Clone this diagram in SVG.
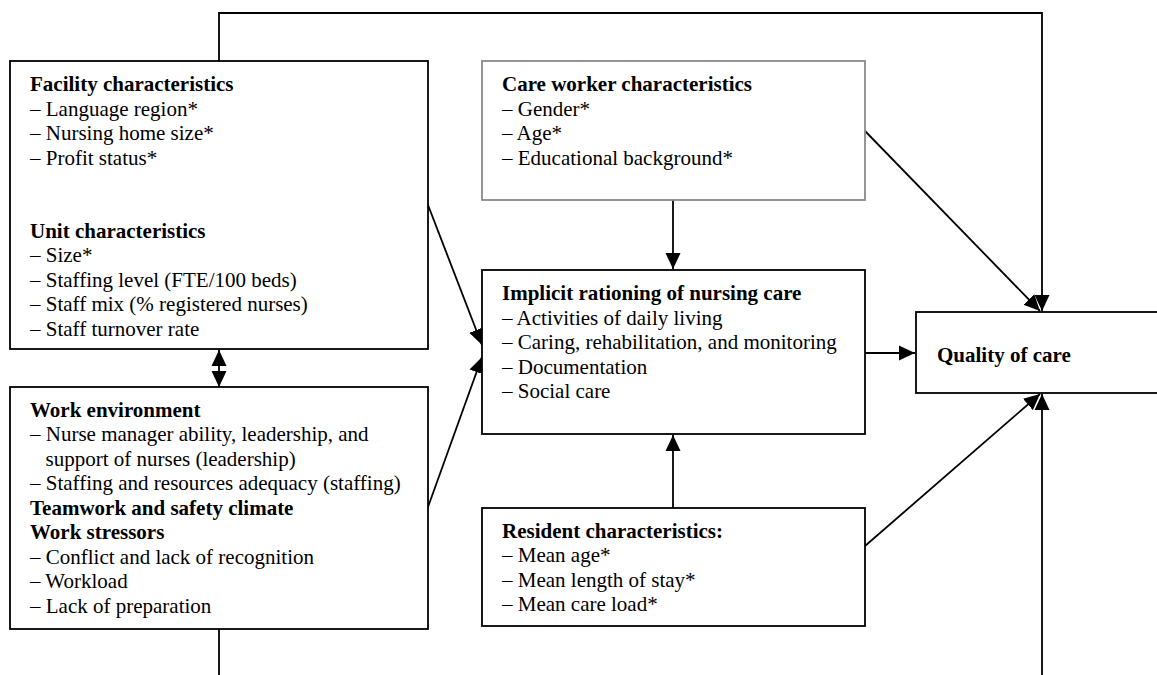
<svg xmlns="http://www.w3.org/2000/svg" width="1157" height="675" viewBox="0 0 1157 675">
<style>
.box{fill:#fff;stroke:#000;stroke-width:1.8}
.gbox{fill:#fff;stroke:#8a8a8a;stroke-width:1.8}
text{font-family:"Liberation Serif","Times New Roman",serif;font-size:21px;fill:#000}
.b{font-weight:bold}
.c{fill:none;stroke:#000;stroke-width:1.8}
</style>
<defs>
<marker id="ah" markerUnits="userSpaceOnUse" markerWidth="17" markerHeight="17" viewBox="0 0 17 17" refX="16" refY="8.5" orient="auto-start-reverse">
<path d="M0,1 L16,8.5 L0,16 Z" fill="#000"/>
</marker>
</defs>
<g id="connectors">
<polyline class="c" points="219,61 219,13 1042,13 1042,311" marker-end="url(#ah)"/>
<line class="c" x1="219" y1="629" x2="219" y2="675"/>
<line class="c" x1="1042" y1="675" x2="1042" y2="394" marker-end="url(#ah)"/>
<line class="c" x1="219" y1="350" x2="219" y2="387" marker-start="url(#ah)" marker-end="url(#ah)"/>
<line class="c" x1="428" y1="205" x2="482" y2="345" marker-end="url(#ah)"/>
<line class="c" x1="428" y1="507" x2="482" y2="357" marker-end="url(#ah)"/>
<line class="c" x1="673" y1="200" x2="673" y2="269" marker-end="url(#ah)"/>
<line class="c" x1="673" y1="508" x2="673" y2="435" marker-end="url(#ah)"/>
<line class="c" x1="865" y1="353" x2="915" y2="353" marker-end="url(#ah)"/>
<line class="c" x1="865" y1="131" x2="1040" y2="311" marker-end="url(#ah)"/>
<line class="c" x1="865" y1="546" x2="1040" y2="394" marker-end="url(#ah)"/>
</g>
<g id="facility">
<rect class="box" x="10" y="61" width="418" height="288"/>
<text class="b" x="30" y="91">Facility characteristics</text>
<text x="30" y="115.5">– Language region*</text>
<text x="30" y="140">– Nursing home size*</text>
<text x="30" y="164.5">– Profit status*</text>
<text class="b" x="30" y="237.5">Unit characteristics</text>
<text x="30" y="262">– Size*</text>
<text x="30" y="286.5">– Staffing level (FTE/100 beds)</text>
<text x="30" y="311">– Staff mix (% registered nurses)</text>
<text x="30" y="335.5">– Staff turnover rate</text>
</g>
<g id="work-environment">
<rect class="box" x="10" y="387" width="418" height="242"/>
<text class="b" x="30" y="416.5">Work environment</text>
<text x="30" y="441">– Nurse manager ability, leadership, and</text>
<text x="45.5" y="465.5">support of nurses (leadership)</text>
<text x="30" y="490">– Staffing and resources adequacy (staffing)</text>
<text class="b" x="30" y="514.5">Teamwork and safety climate</text>
<text class="b" x="30" y="539">Work stressors</text>
<text x="30" y="563.5">– Conflict and lack of recognition</text>
<text x="30" y="588">– Workload</text>
<text x="30" y="612.5">– Lack of preparation</text>
</g>
<g id="care-worker">
<rect class="gbox" x="482" y="61" width="383" height="139"/>
<text class="b" x="502" y="91">Care worker characteristics</text>
<text x="502" y="115.5">– Gender*</text>
<text x="502" y="140">– Age*</text>
<text x="502" y="164.5">– Educational background*</text>
</g>
<g id="implicit-rationing">
<rect class="box" x="482" y="270" width="383" height="164"/>
<text class="b" x="502" y="300">Implicit rationing of nursing care</text>
<text x="502" y="324.5">– Activities of daily living</text>
<text x="502" y="349">– Caring, rehabilitation, and monitoring</text>
<text x="502" y="373.5">– Documentation</text>
<text x="502" y="398">– Social care</text>
</g>
<g id="resident">
<rect class="box" x="482" y="508" width="383" height="118"/>
<text class="b" x="502" y="537.5">Resident characteristics:</text>
<text x="502" y="562">– Mean age*</text>
<text x="502" y="586.5">– Mean length of stay*</text>
<text x="502" y="611">– Mean care load*</text>
</g>
<g id="quality">
<rect class="box" x="916" y="312" width="250" height="81"/>
<text class="b" x="937" y="362">Quality of care</text>
</g>
</svg>
